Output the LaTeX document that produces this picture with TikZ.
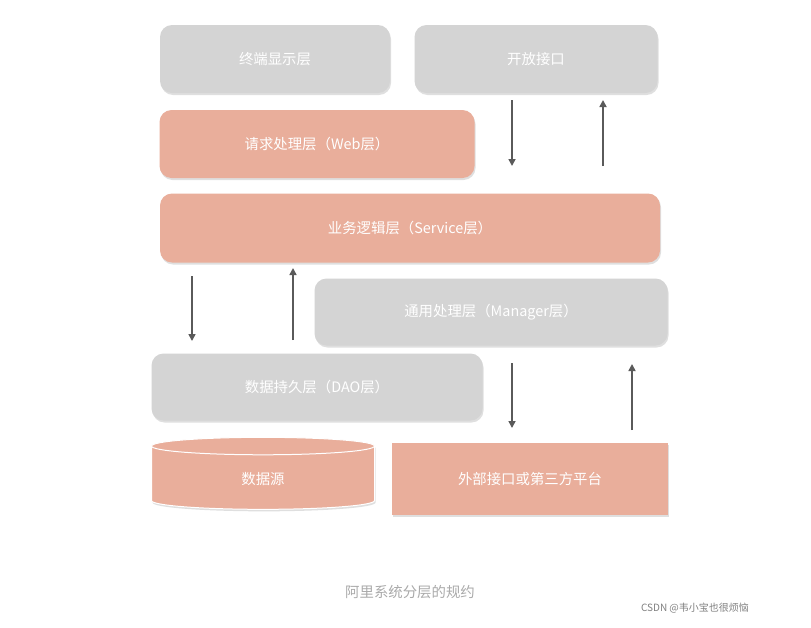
\documentclass[tikz,border=0pt]{standalone}
\usepackage{fontspec}
\setmainfont{Noto Sans CJK SC}
\usetikzlibrary{shapes.geometric,arrows.meta,shadows}
\definecolor{graybox}{HTML}{D4D4D4}
\definecolor{redbox}{HTML}{E9AE9B}
\definecolor{arrowgray}{HTML}{5A5A5A}
\tikzset{
  layer/.style={rounded corners=12pt, draw=none, drop shadow={opacity=0.25,shadow xshift=1pt,shadow yshift=-2pt}, font=\Large, text=white},
  graylayer/.style={layer, fill=graybox},
  redlayer/.style={layer, fill=redbox},
  flow/.style={-{Triangle[length=7pt,width=7pt]}, line width=1.6pt, draw=arrowgray}
}
\begin{document}
\begin{tikzpicture}[x=1pt,y=-1pt]
  \useasboundingbox (0,0) rectangle (811,627);
  \fill[white] (0,0) rectangle (811,627);
  % top row
  \node[graylayer, minimum width=230pt, minimum height=68pt] (term) at (275,59) {终端显示层};
  \node[graylayer, minimum width=243pt, minimum height=68pt] (open) at (536,59) {开放接口};
  \node[redlayer, minimum width=315pt, minimum height=68pt] (web) at (317,144) {请求处理层（Web层）};
  \node[redlayer, minimum width=500pt, minimum height=69pt] (service) at (410,228) {业务逻辑层（Service层）};
  \node[graylayer, minimum width=353pt, minimum height=67pt] (manager) at (491,312) {通用处理层（Manager层）};
  \node[graylayer, minimum width=331pt, minimum height=67pt] (dao) at (317,387) {数据持久层（DAO层）};
  % bottom row
  \node[cylinder, shape border rotate=90, aspect=0.35, fill=redbox, draw=white, line width=1pt,
        minimum width=223pt, minimum height=72pt, font=\Large, text=white,
        drop shadow={opacity=0.25,shadow xshift=1pt,shadow yshift=-2pt}] (source) at (263,479) {数据源};
  \node[fill=redbox, minimum width=276pt, minimum height=72pt, font=\Large, text=white,
        drop shadow={opacity=0.25,shadow xshift=1pt,shadow yshift=-2pt}] (ext) at (530,479) {外部接口或第三方平台};
  % arrows
  \coordinate (a1) at (512,100); \coordinate (a2) at (512,166);
  \coordinate (b1) at (603,166); \coordinate (b2) at (603,100);
  \coordinate (c1) at (192,276); \coordinate (c2) at (192,341);
  \coordinate (d1) at (293,340); \coordinate (d2) at (293,268);
  \coordinate (e1) at (512,363); \coordinate (e2) at (512,428);
  \coordinate (f1) at (632,430); \coordinate (f2) at (632,364);
  \draw[flow] (a1) -- (a2);
  \draw[flow] (b1) -- (b2);
  \draw[flow] (c1) -- (c2);
  \draw[flow] (d1) -- (d2);
  \draw[flow] (e1) -- (e2);
  \draw[flow] (f1) -- (f2);
  % caption
  \node[text=graybox!80!black, font=\Large] (caption) at (410,592) {阿里系统分层的规约};
  \node[text=gray, font=\normalsize] (mark) at (695,608) {CSDN @韦小宝也很烦恼};
\end{tikzpicture}
\end{document}
